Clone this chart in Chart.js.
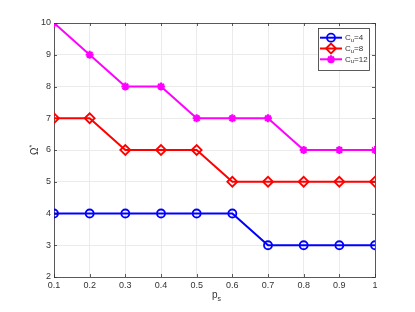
<!DOCTYPE html>
<html>
<head>
<meta charset="utf-8">
<script src="https://cdn.jsdelivr.net/npm/chart.js@4/dist/chart.umd.min.js"></script>
<style>
  html, body { margin: 0; padding: 0; background: #fff; }
  #wrap { width: 415px; height: 312px; }
</style>
</head>
<body>
<div id="wrap"><canvas id="chart" width="415" height="312"></canvas></div>
<script>
// values
const psValues = [0.1, 0.2, 0.3, 0.4, 0.5, 0.6, 0.7, 0.8, 0.9, 1];
const omegaTicks = [2, 3, 4, 5, 6, 7, 8, 9, 10];
const cu4 = [4, 4, 4, 4, 4, 4, 3, 3, 3, 3];
const cu8 = [7, 7, 6, 6, 6, 5, 5, 5, 5, 5];
const cu12 = [10, 9, 8, 8, 7, 7, 7, 6, 6, 6];
const seriesNames = ['4', '8', '12'];

const FONT = 'Liberation Sans, Arial, sans-serif';
const TEXT = '#333333';

function toPoints(arr) {
    return psValues.map((x, i) => ({ x: x, y: arr[i] }));
}

function makeSet(name, data, color, shape, order) {
    return {
        label: name,
        data: toPoints(data),
        borderColor: color,
        backgroundColor: 'rgba(0,0,0,0)',
        borderWidth: 2,
        pointStyle: shape,
        pointRadius: shape === 'rectRot' ? 5 : 4,
        pointBorderWidth: shape === 'star' ? 2.2 : 1.8,
        pointBorderColor: color,
        pointBackgroundColor: 'rgba(0,0,0,0)',
        tension: 0,
        order: order
    };
}

// MATLAB-style legend box with line + marker samples and subscripted text
const legendBox = {
    id: 'legendBox',
    afterDraw(chart) {
        const ctx = chart.ctx;
        const x0 = 318, y0 = 28, w = 51, h = 42;
        ctx.save();
        ctx.fillStyle = '#fff';
        ctx.fillRect(x0, y0, w, h);
        ctx.strokeStyle = '#333';
        ctx.lineWidth = 0.8;
        ctx.strokeRect(x0 + 0.5, y0 + 0.5, w, h);
        const rows = [37.7, 48.5, 59.3];
        chart.data.datasets.forEach((ds, i) => {
            const y = rows[i];
            ctx.strokeStyle = ds.borderColor;
            ctx.lineWidth = 2;
            ctx.beginPath();
            ctx.moveTo(320, y);
            ctx.lineTo(342, y);
            ctx.stroke();
            ctx.lineWidth = ds.pointBorderWidth;
            ctx.fillStyle = 'rgba(0,0,0,0)';
            Chart.helpers.drawPoint(ctx, {
                pointStyle: ds.pointStyle,
                radius: ds.pointRadius,
                borderWidth: ds.pointBorderWidth
            }, 331, y);
            ctx.fillStyle = TEXT;
            ctx.textBaseline = 'middle';
            ctx.font = '8px ' + FONT;
            ctx.fillText('C', 345, y);
            const cw = ctx.measureText('C').width;
            ctx.font = '6px ' + FONT;
            ctx.fillText('u', 345 + cw, y + 2.5);
            const uw = ctx.measureText('u').width;
            ctx.font = '8px ' + FONT;
            ctx.fillText('=' + seriesNames[i], 345 + cw + uw, y);
        });
        ctx.restore();
    }
};

// frame on top/right like MATLAB "box on", inward ticks, axis titles with sub/superscripts
const frameAndTitles = {
    id: 'frameAndTitles',
    beforeDatasetsDraw(chart) {
        const a = chart.chartArea;
        const ctx = chart.ctx;
        const xs = chart.scales.x, ys = chart.scales.y;
        ctx.save();
        ctx.strokeStyle = '#333';
        ctx.lineWidth = 0.8;
        ctx.beginPath();
        psValues.forEach(v => {
            const px = Math.round(xs.getPixelForValue(v)) + 0.5;
            ctx.moveTo(px, a.bottom);
            ctx.lineTo(px, a.bottom - 3);
            ctx.moveTo(px, a.top);
            ctx.lineTo(px, a.top + 3);
        });
        omegaTicks.forEach(v => {
            const py = Math.round(ys.getPixelForValue(v)) + 0.5;
            ctx.moveTo(a.left, py);
            ctx.lineTo(a.left + 3, py);
            ctx.moveTo(a.right, py);
            ctx.lineTo(a.right - 3, py);
        });
        ctx.stroke();
        ctx.restore();
    },
    afterDraw(chart) {
        const a = chart.chartArea;
        const ctx = chart.ctx;
        ctx.save();
        ctx.strokeStyle = '#333';
        ctx.lineWidth = 0.8;
        ctx.beginPath();
        ctx.moveTo(a.left, a.top + 0.5);
        ctx.lineTo(a.right + 0.5, a.top + 0.5);
        ctx.lineTo(a.right + 0.5, a.bottom);
        ctx.stroke();

        // x title: p_s
        ctx.fillStyle = TEXT;
        ctx.textBaseline = 'alphabetic';
        ctx.font = '10px ' + FONT;
        const px = 212, py = 298;
        ctx.fillText('p', px, py);
        const pw = ctx.measureText('p').width;
        ctx.font = '7px ' + FONT;
        ctx.fillText('s', px + pw, py + 3);

        // y title: Omega*
        ctx.translate(38, 155);
        ctx.rotate(-Math.PI / 2);
        ctx.font = '10px ' + FONT;
        ctx.fillText('\u03A9', 0, 0);
        const ow = ctx.measureText('\u03A9').width;
        ctx.font = '7px ' + FONT;
        ctx.fillText('*', ow, -4);
        ctx.restore();
    }
};

new Chart(document.getElementById('chart'), {
    type: 'line',
    data: {
        datasets: [
            makeSet('Cu=4', cu4, '#0000ff', 'circle', 3),
            makeSet('Cu=8', cu8, '#ff0000', 'rectRot', 2),
            makeSet('Cu=12', cu12, '#ff00ff', 'star', 1)
        ]
    },
    options: {
        responsive: false,
        animation: false,
        layout: { padding: { left: 28, right: 40, top: 23, bottom: 5 } },
        plugins: { legend: { display: false }, tooltip: { enabled: false } },
        scales: {
            x: {
                type: 'linear',
                min: 0.1,
                max: 1,
                afterFit: (s) => { s.height = 30; },
                afterBuildTicks: (s) => { s.ticks = psValues.map(v => ({ value: v })); },
                ticks: {
                    color: TEXT,
                    font: { family: FONT, size: 9 },
                    padding: 3,
                    maxRotation: 0,
                    callback: (v) => String(Math.round(v * 10) / 10)
                },
                grid: { color: '#ebebeb', drawTicks: false },
                border: { color: '#333', width: 0.8 }
            },
            y: {
                min: 2,
                max: 10,
                afterFit: (s) => { s.width = 26; },
                afterBuildTicks: (s) => { s.ticks = omegaTicks.map(v => ({ value: v })); },
                ticks: {
                    color: TEXT,
                    font: { family: FONT, size: 9 },
                    padding: 3
                },
                grid: { color: '#ebebeb', drawTicks: false },
                border: { color: '#333', width: 0.8 }
            }
        }
    },
    plugins: [legendBox, frameAndTitles]
});
</script>
</body>
</html>
